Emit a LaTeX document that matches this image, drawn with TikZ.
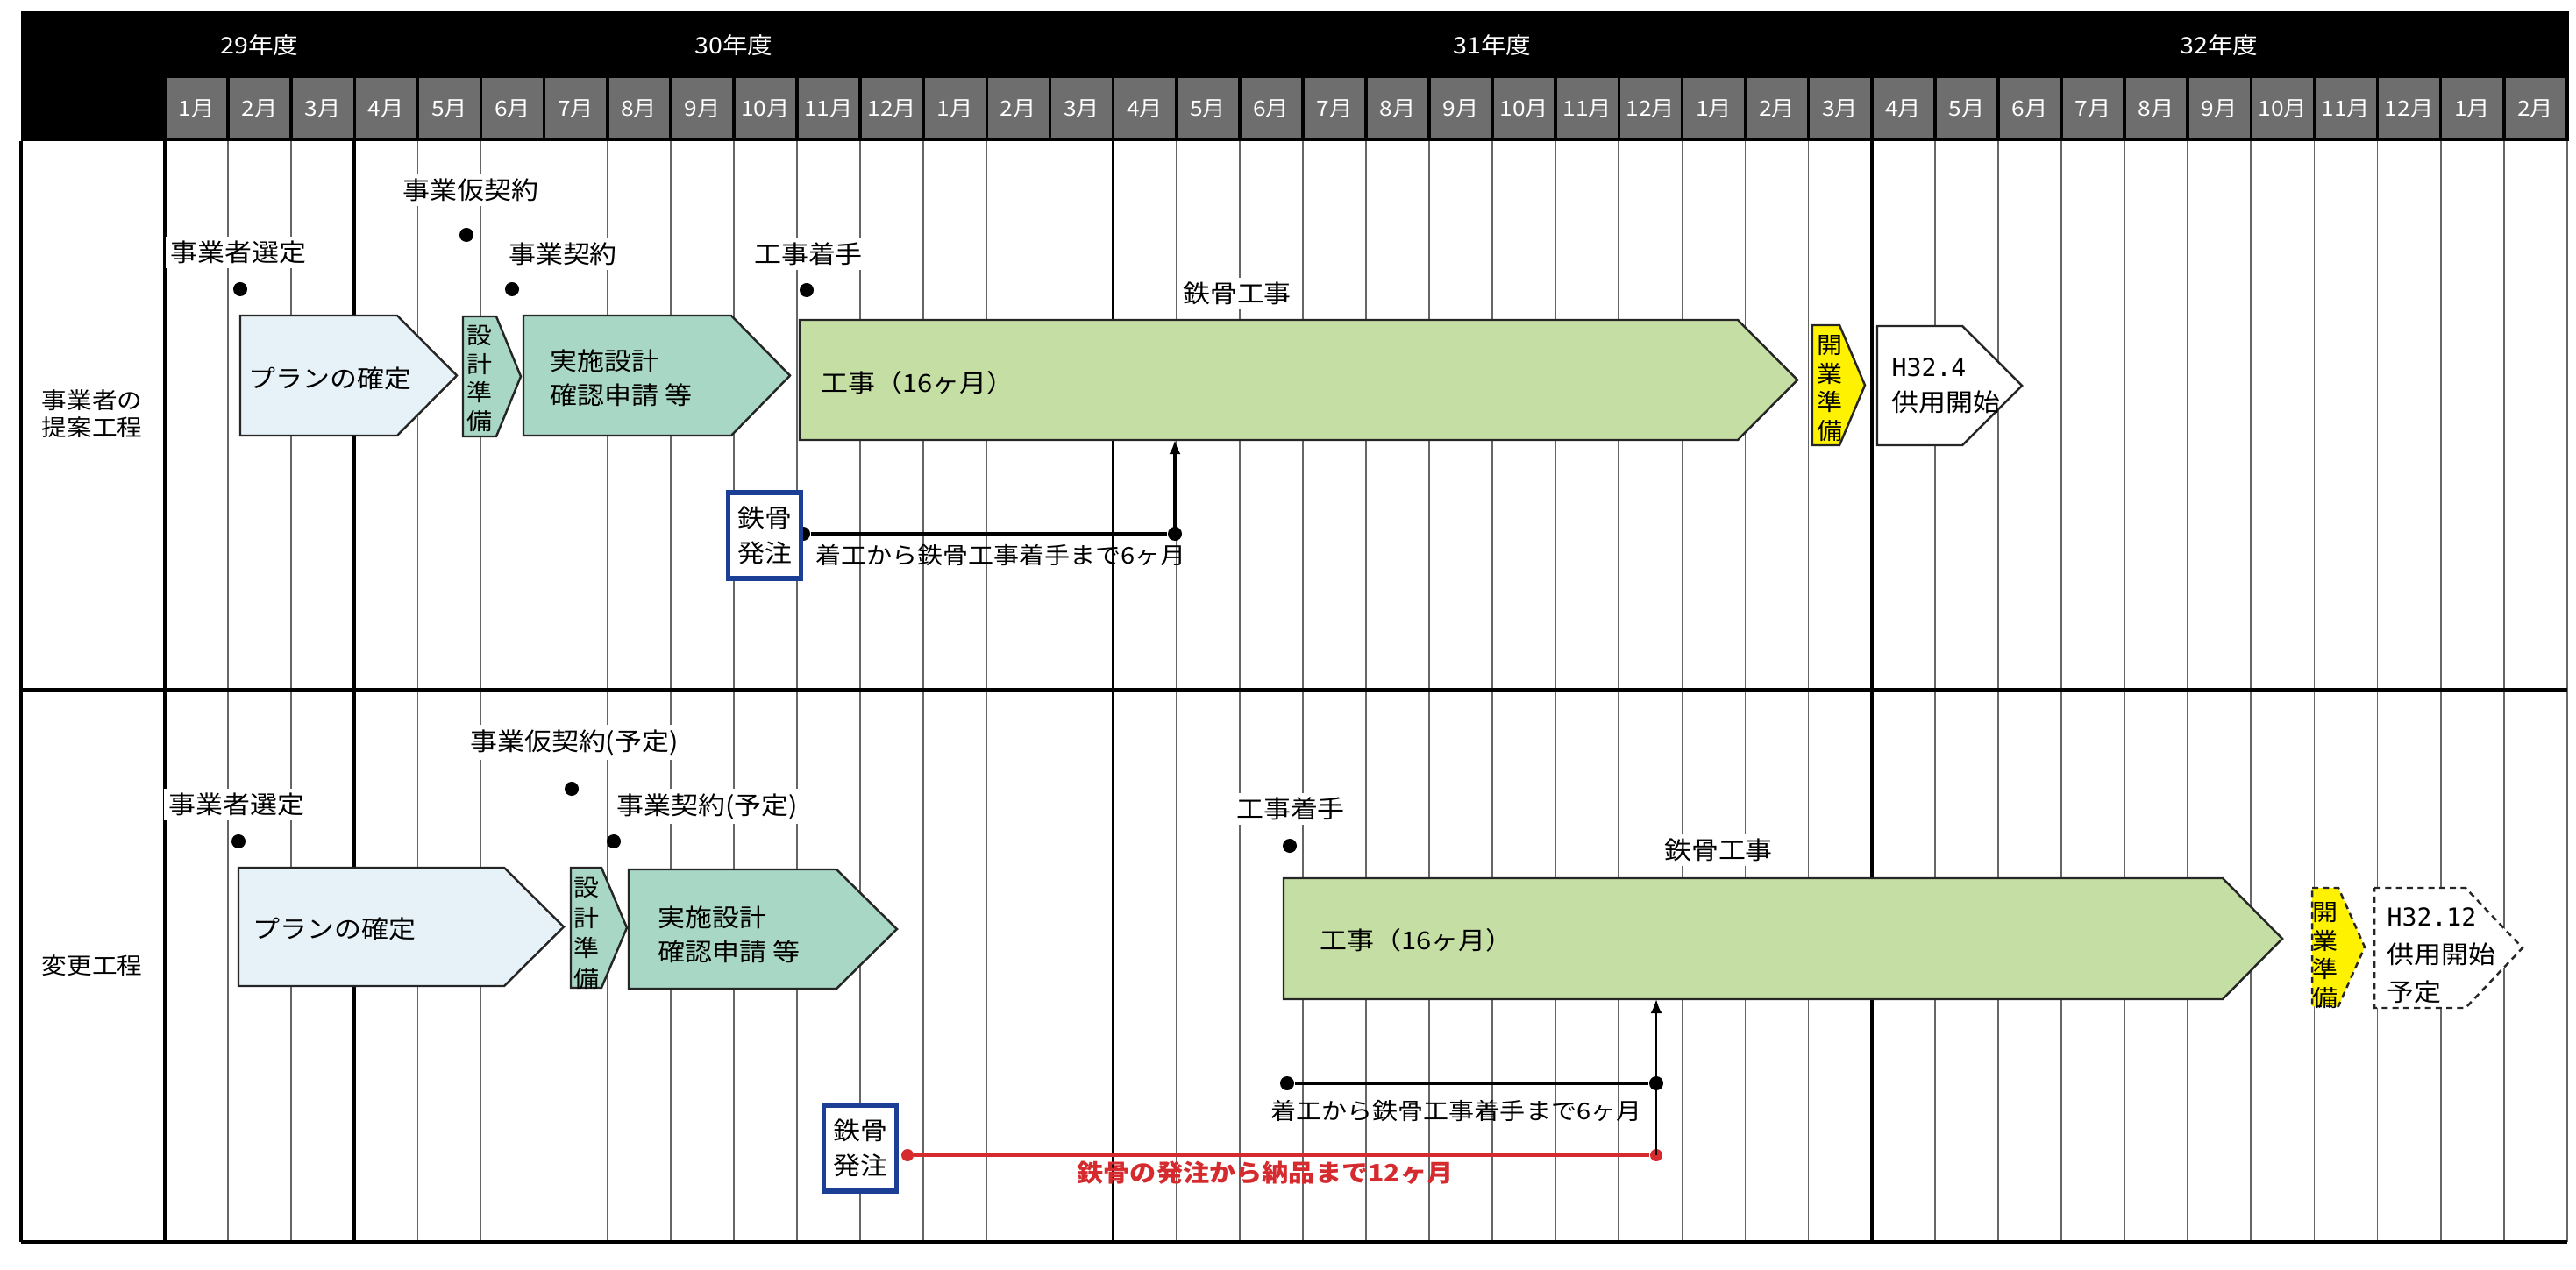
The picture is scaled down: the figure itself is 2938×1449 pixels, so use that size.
\documentclass[tikz,border=0pt]{standalone}
\usepackage{fontspec}
\setmainfont[FakeStretch=1.1]{Noto Sans CJK JP}
\newfontfamily\monof{DejaVu Sans Mono}
\usetikzlibrary{arrows.meta}
\definecolor{cPlan}{HTML}{E6F2F7}
\definecolor{cTeal}{HTML}{A9D7C5}
\definecolor{cGreen}{HTML}{C5DEA3}
\definecolor{cYellow}{HTML}{FFF200}
\definecolor{cBlue}{HTML}{1B3F94}
\definecolor{cRed}{HTML}{D52A2E}
\definecolor{cGray}{HTML}{6E6E6E}
\newcommand\pent[6]{\draw[#1] (#2,#5) -- (#3,#5) -- (#4,{(#5+#6)/2}) -- (#3,#6) -- (#2,#6) -- cycle;}
\begin{document}
\begin{tikzpicture}[x=0.01cm,y=-0.01cm,
 mline/.style={draw=black!60,line width=0.5pt},
 yline/.style={draw=black,line width=1.1pt},
 pshape/.style={draw=black!85,line width=0.7pt},
 lbl/.style={font=\fontsize{8}{9.6}\selectfont,fill=white,inner sep=1.5pt},
 btxt/.style={font=\fontsize{8}{11}\selectfont,anchor=west,align=left,inner sep=0pt},
 vtxt/.style={font=\fontsize{7.5}{9.3}\selectfont,align=center,inner sep=0pt},
 mdot/.style={circle,fill=black,minimum size=0.16cm,inner sep=0pt},
 rdot/.style={circle,fill=cRed,minimum size=0.14cm,inner sep=0pt},
 conn/.style={line width=0.9pt},
 ordbox/.style={draw=cBlue,line width=1.6pt,fill=white,minimum width=0.83cm,minimum height=0.98cm,align=center,inner sep=0pt,font=\fontsize{8}{11.4}\selectfont},
 mon/.style={text=white,font=\fontsize{6.8}{8}\selectfont},
 yr/.style={text=white,font=\fontsize{7.4}{8}\selectfont},
 side/.style={font=\fontsize{7.4}{8.9}\selectfont,align=center},
 note/.style={font=\fontsize{7.5}{9}\selectfont,inner sep=1pt},
]
\useasboundingbox (0,0) rectangle (2938,1449);
\fill[white] (0,0) rectangle (2938,1449);

% ---------- header ----------
\fill[black] (24,12) rectangle (2930,161);
\foreach \i in {0,...,37}
  \fill[cGray] ({188+72.1*\i+1.8},89) rectangle ({188+72.1*(\i+1)-1.8},158);
\foreach \m [count=\i from 0] in {1,2,3,4,5,6,7,8,9,10,11,12,1,2,3,4,5,6,7,8,9,10,11,12,1,2,3,4,5,6,7,8,9,10,11,12,1,2}
  \node[mon] (m\i) at ({188+72.1*\i+36.05},124) {\m 月};
\node[yr] (y29) at (296,52) {29年度};
\node[yr] (y30) at (837,52) {30年度};
\node[yr] (y31) at (1702,52) {31年度};
\node[yr] (y32) at (2531,52) {32年度};

% ---------- body grid ----------
\foreach \i in {1,2}       \draw[mline] ({188+72.1*\i},161) -- ({188+72.1*\i},1417);
\foreach \i in {4,...,14}  \draw[mline] ({188+72.1*\i},161) -- ({188+72.1*\i},1417);
\foreach \i in {16,...,26} \draw[mline] ({188+72.1*\i},161) -- ({188+72.1*\i},1417);
\foreach \i in {28,...,38} \draw[mline] ({188+72.1*\i},161) -- ({188+72.1*\i},1417);
\foreach \i in {0,3,15,27} \draw[yline] ({188+72.1*\i},161) -- ({188+72.1*\i},1417);
\draw[yline] (24,161) -- (24,1417);
\draw[yline] (24,787) -- (2928,787);
\draw[yline] (24,1417) -- (2928,1417);

\node[side] (lab1) at (105,472) {事業者の\\提案工程};
\node[side] (lab2) at (105,1102) {変更工程};

% ---------- row 1 ----------
\pent{pshape,fill=cPlan}{274}{453}{521}{360}{497}
\pent{pshape,fill=cTeal}{528}{566}{594}{361}{498}
\pent{pshape,fill=cTeal}{597}{834}{901}{360}{497}
\pent{pshape,fill=cGreen}{912}{1982}{2050}{365}{502}
\pent{pshape,fill=cYellow}{2067}{2098}{2127}{371}{508}
\pent{pshape,fill=white}{2141}{2238}{2306}{372}{508}
\coordinate (g1b) at (912,502);

\node[btxt] (a1) at (283,432) {プランの確定};
\node[vtxt] (a2) at (547,432) {設\\計\\準\\備};
\node[btxt] (a3) at (627,431) {実施設計\\確認申請\ 等};
\node[btxt] (a4) at (936,437) {工事（16ヶ月）};
\node[vtxt] (a5) at (2087,443) {開\\業\\準\\備};
\node[btxt,font=\fontsize{8}{11.4}\selectfont] (a6) at (2157,440) {{\monof H32.4}\\供用開始};

\node[lbl] (k1) at (537,217) {事業仮契約};
\node[lbl] (k2) at (272,288) {事業者選定};
\node[lbl] (k3) at (642,290) {事業契約};
\node[lbl] (k4) at (922,290) {工事着手};
\node[lbl] (k5) at (1411,335) {鉄骨工事};
\node[mdot] (p1) at (532,268) {};
\node[mdot] (p2) at (274,330) {};
\node[mdot] (p3) at (584,330) {};
\node[mdot] (p4) at (920,331) {};

\node[mdot] (o1) at (916,609) {};
\node[mdot] (o2) at (1340,609) {};
\draw[conn] (o1) -- (o2);
\draw[conn,-{Latex[length=0.16cm,width=0.13cm]}] (o2.center) -- (o2.center |- g1b);
\node[ordbox] (b1) at (872,611) {鉄骨\\発注};
\node[note,anchor=west] (n1) at (926,633) {着工から鉄骨工事着手まで6ヶ月};

% ---------- row 2 ----------
\pent{pshape,fill=cPlan}{272}{575}{643}{990}{1125}
\pent{pshape,fill=cTeal}{651}{686}{715}{990}{1127}
\pent{pshape,fill=cTeal}{717}{954}{1023}{992}{1128}
\pent{pshape,fill=cGreen}{1464}{2535}{2603}{1002}{1140}
\pent{pshape,dashed,dash pattern=on 2pt off 1.5pt,fill=cYellow}{2637}{2667}{2697}{1013}{1148}
\pent{pshape,dashed,dash pattern=on 2pt off 1.5pt,fill=white}{2708}{2812}{2877}{1013}{1150}
\coordinate (g2b) at (1464,1140);

\node[btxt] (c1) at (288,1060) {プランの確定};
\node[vtxt,font=\fontsize{7.5}{9.9}\selectfont] (c2) at (669,1065) {設\\計\\準\\備};
\node[btxt] (c3) at (750,1066) {実施設計\\確認申請\ 等};
\node[btxt] (c4) at (1505,1073) {工事（16ヶ月）};
\node[vtxt] (c5) at (2652,1090) {開\\業\\準\\備};
\node[btxt,font=\fontsize{8}{12.2}\selectfont] (c6) at (2722,1090) {{\monof H32.12}\\供用開始\\予定};

\node[lbl] (q1) at (655,847) {事業仮契約(予定)};
\node[lbl] (q2) at (270,918) {事業者選定};
\node[lbl] (q3) at (807,920) {事業契約(予定)};
\node[lbl] (q4) at (1472,923) {工事着手};
\node[lbl] (q5) at (1960,970) {鉄骨工事};
\node[mdot] (r1) at (652,900) {};
\node[mdot] (r2) at (272,960) {};
\node[mdot] (r3) at (700,960) {};
\node[mdot] (r4) at (1471,965) {};

\node[mdot] (o3) at (1468,1236) {};
\node[mdot] (o4) at (1889,1236) {};
\node[rdot] (o5) at (1035,1318) {};
\node[rdot] (o6) at (1889,1318) {};
\draw[conn] (o3) -- (o4);
\draw[line width=0.7pt,-{Latex[length=0.16cm,width=0.13cm]}] (o6.center) -- (o6.center |- g2b);
\draw[conn,draw=cRed,line width=1.2pt] (o5) -- (o6);
\node[ordbox] (b2) at (981,1310) {鉄骨\\発注};
\node[note] (n2) at (1661,1267) {着工から鉄骨工事着手まで6ヶ月};
\node[note,text=cRed,font=\fontsize{7.8}{9}\selectfont\bfseries] (n3) at (1443,1338) {鉄骨の発注から納品まで12ヶ月};
\end{tikzpicture}
\end{document}
